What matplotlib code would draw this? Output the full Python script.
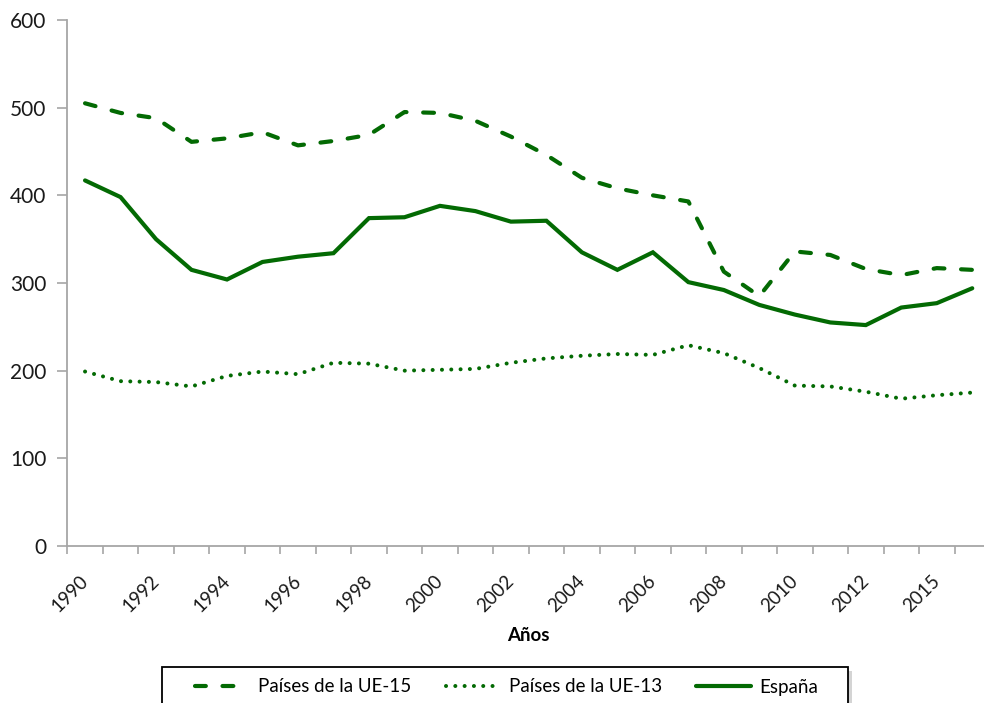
import matplotlib
matplotlib.use('Agg')
import matplotlib.pyplot as plt
from matplotlib.patches import Rectangle
import numpy as np

plt.rcParams['font.family'] = ['Lato', 'DejaVu Sans']

# años de la serie (no hay dato de 2014)
anios = ['1990', '1991', '1992', '1993', '1994', '1995', '1996', '1997',
         '1998', '1999', '2000', '2001', '2002', '2003', '2004', '2005',
         '2006', '2007', '2008', '2009', '2010', '2011', '2012', '2013',
         '2015', '2016']

ue15 = [505, 494, 488, 461, 465, 472, 457, 462, 469, 495, 494, 485, 467,
        446, 420, 408, 400, 393, 313, 285, 336, 332, 316, 309, 317, 315]
ue13 = [199, 188, 187, 182, 194, 199, 196, 209, 208, 200, 201, 202, 209,
        214, 217, 219, 218, 229, 220, 203, 183, 182, 176, 168, 172, 175]
espana = [417, 398, 350, 315, 304, 324, 330, 334, 374, 375, 388, 382, 370,
          371, 335, 315, 335, 301, 292, 275, 264, 255, 252, 272, 277, 294]

verde = '#036a03'
gris = '#a6a6a6'

W, H = 984, 703
fig = plt.figure(figsize=(W / 100, H / 100), dpi=100)
ax = fig.add_axes([67.3 / W, 157 / H, (990 - 67.3) / W, 526 / H])

x = np.arange(len(anios))
ax.plot(x, ue15, color=verde, lw=3.0, linestyle=(0, (2.6, 4.0)),
        dash_capstyle='round', label='Países de la UE-15')
ax.plot(x, ue13, color=verde, lw=2.9, linestyle=(0, (0.01, 2.3)),
        dash_capstyle='round', label='Países de la UE-13')
ax.plot(x, espana, color=verde, lw=3.0, solid_capstyle='round',
        solid_joinstyle='miter', label='España')

ax.set_xlim(-0.5, len(anios) - 0.5)
ax.set_ylim(0, 600)
ax.set_yticks(range(0, 601, 100))

# marcas en los límites de cada categoría, etiquetas en años alternos
ax.set_xticks(np.arange(-0.5, len(anios), 1.0))
ax.set_xticklabels([])
ax.set_xticks(x[::2], minor=True)
ax.set_xticklabels(anios[::2], minor=True, rotation=45, ha='right',
                   va='center', rotation_mode='anchor')
ax.tick_params(axis='x', which='minor', length=0, pad=23, labelsize=13.5,
               labelcolor='#1a1a1a')
ax.tick_params(axis='x', which='major', length=6, width=1.2, color=gris)
ax.tick_params(axis='y', length=7, width=1.2, color=gris, pad=8,
               labelsize=15, labelcolor='#1a1a1a')

for lado in ('top', 'right'):
    ax.spines[lado].set_visible(False)
for lado in ('left', 'bottom'):
    ax.spines[lado].set_color(gris)
    ax.spines[lado].set_linewidth(1.3)

ax.set_xlabel('Años', fontsize=13.5, fontweight='bold', labelpad=9)

# recuadro de la leyenda con sombra suave
caja_x, caja_y = 162 / W, -0.02
caja_w, caja_h = (848 - 162) / W, (H - 667) / H + 0.02
fig.add_artist(Rectangle((caja_x + 4 / W, caja_y - 4 / H), caja_w, caja_h,
                         transform=fig.transFigure, facecolor='#d4d4d4',
                         edgecolor='none', zorder=1))
fig.add_artist(Rectangle((caja_x, caja_y), caja_w, caja_h,
                         transform=fig.transFigure, facecolor='white',
                         edgecolor='black', lw=1.3, zorder=2))

fig.legend(loc='center left', bbox_to_anchor=(195 / W, 1 - 687 / H),
           ncol=3, fontsize=13.5, frameon=False, handlelength=2.9,
           handletextpad=0.45, columnspacing=1.85, borderpad=0,
           borderaxespad=0)

fig.savefig('out.png', dpi=100)
